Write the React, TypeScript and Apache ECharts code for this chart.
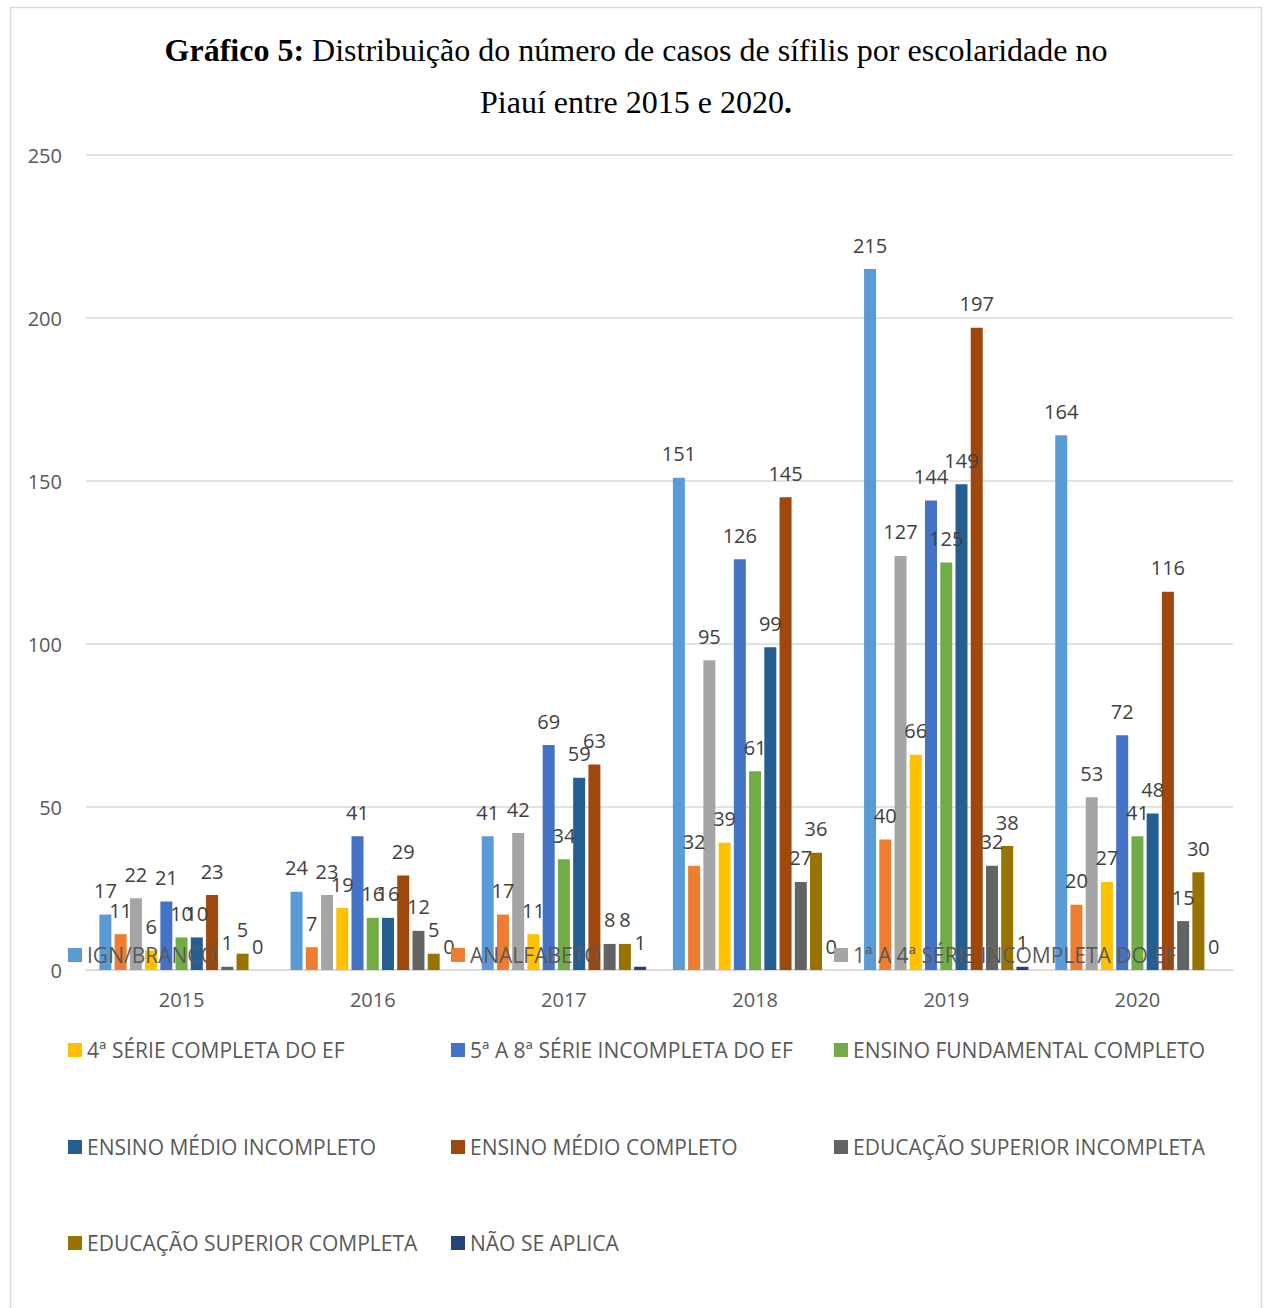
import React, { useEffect, useRef } from "react";
import * as echarts from "echarts";

const categories = ["2015", "2016", "2017", "2018", "2019", "2020"];
const seriesNames = [
  "IGN/BRANCO",
  "ANALFABETO",
  "1ª A 4ª SÉRIE INCOMPLETA DO EF",
  "4ª SÉRIE COMPLETA DO EF",
  "5ª A 8ª SÉRIE INCOMPLETA DO EF",
  "ENSINO FUNDAMENTAL COMPLETO",
  "ENSINO MÉDIO INCOMPLETO",
  "ENSINO MÉDIO COMPLETO",
  "EDUCAÇÃO SUPERIOR INCOMPLETA",
  "EDUCAÇÃO SUPERIOR COMPLETA",
  "NÃO SE APLICA",
];
const ignBranco = [17, 24, 41, 151, 215, 164];
const analfabeto = [11, 7, 17, 32, 40, 20];
const serie1a4Inc = [22, 23, 42, 95, 127, 53];
const serie4Comp = [6, 19, 11, 39, 66, 27];
const serie5a8Inc = [21, 41, 69, 126, 144, 72];
const fundComp = [10, 16, 34, 61, 125, 41];
const medioInc = [10, 16, 59, 99, 149, 48];
const medioComp = [23, 29, 63, 145, 197, 116];
const superiorInc = [1, 12, 8, 27, 32, 15];
const superiorComp = [5, 5, 8, 36, 38, 30];
const naoSeAplica = [0, 0, 1, 0, 1, 0];
const seriesValues = [
  ignBranco, analfabeto, serie1a4Inc, serie4Comp, serie5a8Inc, fundComp,
  medioInc, medioComp, superiorInc, superiorComp, naoSeAplica,
];
const colors = [
  "#5B9BD5", "#ED7D31", "#A5A5A5", "#FFC000", "#4472C4", "#70AD47",
  "#255E91", "#9E480E", "#636363", "#997300", "#264478",
];
const yTicks = [0, 50, 100, 150, 200, 250];
const titleLine1Bold = "Gráfico 5:";
const titleLine1 = " Distribuição do número de casos de sífilis por escolaridade no";
const titleLine2 = "Piauí entre 2015 e 2020";

const FONT = "'Open Sans', sans-serif";
const SERIF = "'Liberation Serif', 'Times New Roman', serif";
const legendCols = [68, 451, 834];
const legendRows = [955, 1050, 1147, 1243];

export default function App() {
  const ref = useRef<HTMLDivElement>(null);
  useEffect(() => {
    if (!ref.current) return;
    const chart = echarts.init(ref.current, null, { renderer: "svg" });
    const legends = seriesNames.map((name, i) => ({
      data: [name],
      left: legendCols[i % 3],
      top: legendRows[Math.floor(i / 3)] - 12,
      padding: 0,
      itemWidth: 14,
      itemHeight: 14,
      itemGap: 0,
      icon: "rect",
      selectedMode: false,
      textStyle: { fontFamily: FONT, fontSize: 21, color: "#595959", lineHeight: 24, padding: [0, 0, 0, 0] },
    }));
    chart.setOption({
      animation: false,
      backgroundColor: "#ffffff",
      color: colors,
      graphic: [
        {
          type: "rect",
          shape: { x: 10.5, y: 7.5, width: 1251, height: 1310 },
          style: { fill: "none", stroke: "#d9d9d9", lineWidth: 1.5 },
          silent: true,
        },
        {
          type: "text",
          x: 636,
          y: 50,
          style: {
            text: "{b|" + titleLine1Bold + "}" + titleLine1,
            fontFamily: SERIF,
            fontSize: 32,
            fill: "#000",
            align: "center",
            verticalAlign: "middle",
            rich: { b: { fontFamily: SERIF, fontSize: 32, fontWeight: "bold", fill: "#000" } },
          },
        },
        {
          type: "text",
          x: 636,
          y: 102,
          style: {
            text: titleLine2 + "{b|.}",
            fontFamily: SERIF,
            fontSize: 32,
            fill: "#000",
            align: "center",
            verticalAlign: "middle",
            rich: { b: { fontFamily: SERIF, fontSize: 32, fontWeight: "bold", fill: "#000" } },
          },
        },
      ],
      legend: legends,
      grid: { left: 86, right: 34, top: 155, bottom: 1308 - 970, containLabel: false },
      xAxis: {
        type: "category",
        data: categories,
        axisLine: { lineStyle: { color: "#d9d9d9", width: 1.5 } },
        axisTick: { show: false },
        axisLabel: { fontFamily: FONT, fontSize: 20, color: "#595959", margin: 19 },
      },
      yAxis: {
        type: "value",
        min: 0,
        max: yTicks[yTicks.length - 1],
        interval: 50,
        axisLine: { show: false },
        axisTick: { show: false },
        splitLine: { lineStyle: { color: "#d9d9d9", width: 1.5 } },
        axisLabel: { fontFamily: FONT, fontSize: 20, color: "#595959", margin: 24 },
      },
      series: seriesNames.map((name, i) => ({
        name,
        type: "bar",
        data: seriesValues[i],
        barWidth: 12,
        barGap: "27%",
        itemStyle: { color: colors[i] },
        label: {
          show: true,
          position: "top",
          distance: 14,
          fontFamily: FONT,
          fontSize: 20,
          color: "#404040",
        },
      })),
    });
    return () => chart.dispose();
  }, []);
  return (
    <div
      ref={ref}
      style={{ position: "absolute", left: 0, top: 0, width: 1267, height: 1308 }}
    />
  );
}
